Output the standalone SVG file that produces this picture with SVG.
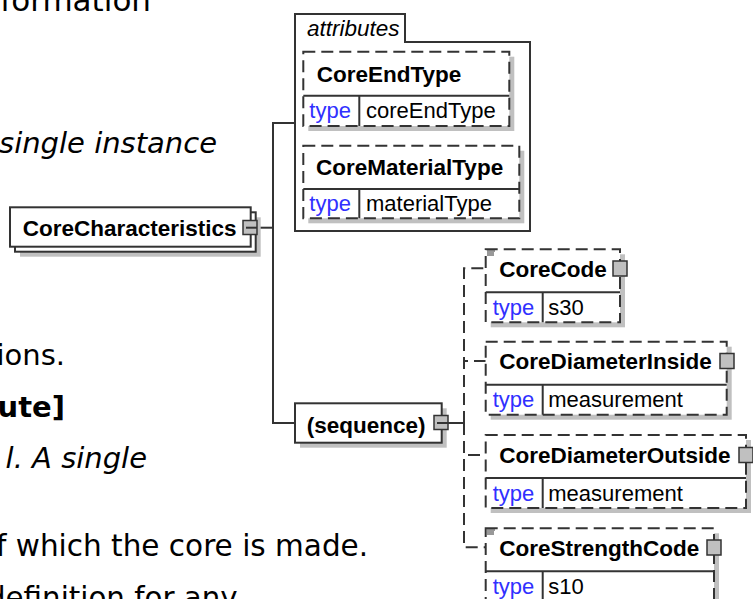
<svg xmlns="http://www.w3.org/2000/svg" width="753" height="599" viewBox="0 0 753 599">
<style>
.bg{font-family:"DejaVu Sans",Verdana,sans-serif;font-size:29px;fill:#000}
.it{font-style:italic}
.bd{font-weight:bold}
.bx{fill:#fff;stroke:#333;stroke-width:2}
.dbx{fill:#fff;stroke:#333;stroke-width:2;stroke-dasharray:12 6}
.sh{fill:#c0c0c0}
.ln{fill:none;stroke:#333;stroke-width:2}
.dln{fill:none;stroke:#333;stroke-width:2;stroke-dasharray:12 6}
.port{fill:#c0c0c0;stroke:#333;stroke-width:1.5}
.doc{stroke:#333;stroke-width:1}
.nm{font-family:"Liberation Sans",Arial,sans-serif;font-weight:bold;font-size:22.5px;fill:#000}
.ty{font-family:"Liberation Sans",Arial,sans-serif;font-size:22px;fill:#3030ff}
.tv{font-family:"Liberation Sans",Arial,sans-serif;font-size:22px;fill:#000}
.at{font-family:"Liberation Sans",Arial,sans-serif;font-style:italic;font-size:22.5px;fill:#000}
</style>
<g id="background-text">
<text class="bg" x="151" y="11" text-anchor="end" style="font-size:31px">formation</text>
<text class="bg it" x="217" y="153" text-anchor="end">single instance</text>
<text class="bg" x="65" y="365" text-anchor="end">ions.</text>
<text class="bg bd" x="65" y="417" text-anchor="end">ute]</text>
<text class="bg it" x="147" y="468" text-anchor="end">l. A single</text>
<text class="bg" x="-4" y="556" style="font-size:29.5px">f which the core is made.</text>
<text class="bg" x="-13" y="608" style="font-size:29.3px">definition for any</text>
</g>
<g id="connectors">
<path class="ln" d="M248,227.7 H273"/>
<path class="ln" d="M295,123 H273 V423 H295"/>
<path class="ln" d="M441,423 H464"/>
<path class="dln" d="M464,423 V268.3 H485.7"/>
<path class="dln" d="M464,423 V361 H485.7"/>
<path class="dln" d="M464,423 V455 H485.7"/>
<path class="dln" d="M464,423 V547.3 H485.7"/>
</g>
<g id="CoreCharacteristics">
<rect class="sh" x="20" y="217.3" width="240.7" height="39.4"/>
<rect class="bx" x="15" y="212.3" width="240.7" height="39.4"/>
<rect class="bx" x="10" y="207.3" width="240.7" height="39.4"/>
<text class="nm" x="22.7" y="236">CoreCharacteristics</text>
<rect class="port" x="243" y="220.5" width="14" height="14"/>
<path class="ln" d="M246,227.7 H257"/>
</g>
<g id="attributes">
<path class="bx" d="M295,231 V14 H405 V42 H530 V231 Z"/>
<text class="at" x="307" y="36">attributes</text>
</g>
<g id="CoreEndType">
<rect class="sh" x="308.3" y="56.7" width="206" height="74.3"/>
<rect class="dbx" x="303.3" y="51.7" width="206" height="74.3"/>
<path class="ln" d="M303.3,95.7 H509.3 M359.3,95.7 V126"/>
<text class="nm" x="316.7" y="81.7">CoreEndType</text>
<text class="ty" x="309.3" y="118.3">type</text>
<text class="tv" x="366" y="118.3">coreEndType</text>
</g>
<g id="CoreMaterialType">
<rect class="sh" x="308.3" y="150.7" width="216" height="72.6"/>
<rect class="dbx" x="303.3" y="145.7" width="216" height="72.6"/>
<path class="ln" d="M303.3,189 H519.3 M359.3,189 V218.3"/>
<text class="nm" x="316" y="175">CoreMaterialType</text>
<text class="ty" x="309.3" y="210.7">type</text>
<text class="tv" x="366" y="210.7">materialType</text>
</g>
<g id="sequence">
<rect class="sh" x="300" y="408.3" width="146.7" height="39.4"/>
<rect class="bx" x="295" y="403.3" width="146.7" height="39.4"/>
<text class="nm" x="306.7" y="433.3">(sequence)</text>
<rect class="port" x="434" y="415.5" width="14" height="14"/>
<path class="ln" d="M437,423 H448"/>
</g>
<g id="CoreCode">
<rect class="sh" x="490.7" y="254.3" width="134.3" height="73"/>
<rect class="dbx" x="485.7" y="249.3" width="134.3" height="73"/>
<path class="ln" d="M485.7,292.3 H620 M542.7,292.3 V322.3"/>
<path class="doc" d="M487,251 H495 M487,253 H494 M487,255 H494"/>
<text class="nm" x="499.3" y="276.5">CoreCode</text>
<rect class="port" x="613" y="261" width="14" height="15"/>
<text class="ty" x="492.7" y="315">type</text>
<text class="tv" x="548.3" y="315">s30</text>
</g>
<g id="CoreDiameterInside">
<rect class="sh" x="490.7" y="346.7" width="241" height="73"/>
<rect class="dbx" x="485.7" y="341.7" width="241" height="73"/>
<path class="ln" d="M485.7,384.7 H726.7 M542.7,384.7 V414.7"/>
<text class="nm" x="499.3" y="368.5">CoreDiameterInside</text>
<rect class="port" x="720" y="353.5" width="14" height="15"/>
<text class="ty" x="492.7" y="407">type</text>
<text class="tv" x="548.3" y="407">measurement</text>
</g>
<g id="CoreDiameterOutside">
<rect class="sh" x="490.7" y="440" width="260.3" height="73"/>
<rect class="dbx" x="485.7" y="435" width="260.3" height="73"/>
<path class="ln" d="M485.7,478 H746 M542.7,478 V508"/>
<text class="nm" x="499.3" y="463">CoreDiameterOutside</text>
<rect class="port" x="739" y="447.5" width="14" height="15"/>
<text class="ty" x="492.7" y="500.5">type</text>
<text class="tv" x="548.3" y="500.5">measurement</text>
</g>
<g id="CoreStrengthCode">
<rect class="sh" x="490.7" y="533.3" width="228.3" height="73"/>
<rect class="dbx" x="485.7" y="528.3" width="228.3" height="73"/>
<path class="ln" d="M485.7,571.3 H714 M542.7,571.3 V601.3"/>
<path class="doc" d="M487,530 H495 M487,532 H494 M487,534 H494"/>
<text class="nm" x="499.3" y="555.5">CoreStrengthCode</text>
<rect class="port" x="707" y="540" width="14" height="15"/>
<text class="ty" x="492.7" y="594">type</text>
<text class="tv" x="548.3" y="594">s10</text>
</g>
</svg>
